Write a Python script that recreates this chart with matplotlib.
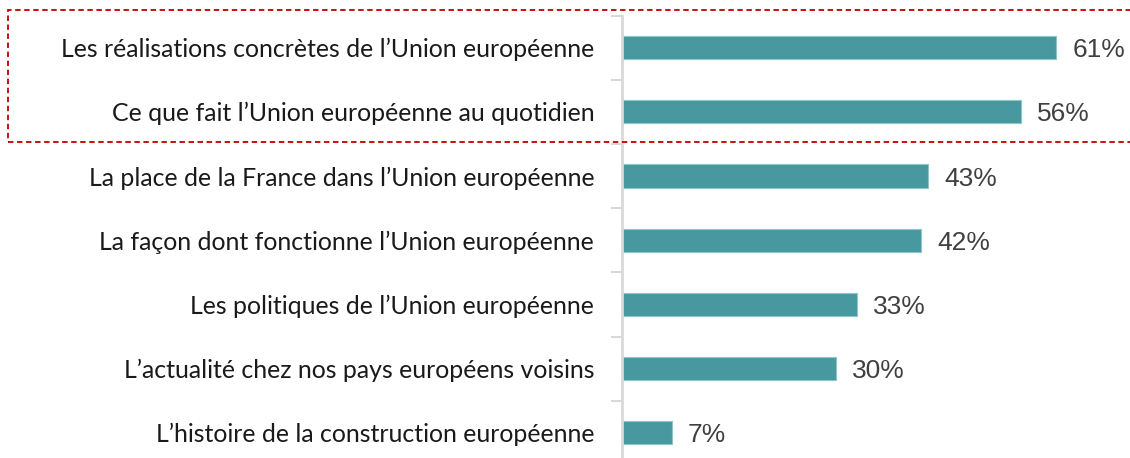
import matplotlib.pyplot as plt
from matplotlib.patches import Rectangle
from matplotlib.ticker import FixedLocator

categories = [
    "Les réalisations concrètes de l’Union européenne",
    "Ce que fait l’Union européenne au quotidien",
    "La place de la France dans l’Union européenne",
    "La façon dont fonctionne l’Union européenne",
    "Les politiques de l’Union européenne",
    "L’actualité chez nos pays européens voisins",
    "L’histoire de la construction européenne",
]
values = [61, 56, 43, 42, 33, 30, 7]

W, H = 1130, 458
fig = plt.figure(figsize=(W / 100, H / 100), dpi=100)

# axes placed in pixels: x=0 at 622 px, 7.12 px per point; rows 64.2 px high
x0, top, row = 622, 15.5, 64.2
n = len(categories)
bottom_px = top + n * row
ax = fig.add_axes([x0 / W, 1 - bottom_px / H, (W - x0) / W, n * row / H])

ypos = list(range(n))
ax.barh(ypos, values, height=0.36, color="#47999F", edgecolor="#8EC6CA",
        linewidth=0.8)
ax.set_xlim(0, (W - x0) / 7.12)
ax.set_ylim(n - 0.5, -0.5)

ax.set_yticks(ypos)
ax.set_yticklabels(categories, fontsize=17.9, family="Lato", color="#1A1A1A")
ax.tick_params(axis="y", which="major", length=0, pad=20)
ax.yaxis.set_minor_locator(FixedLocator([i - 0.5 for i in range(n + 1)]))
ax.tick_params(axis="y", which="minor", length=8, width=1.5, color="#D9D9D9")
ax.set_xticks([])

for s in ["top", "right", "bottom"]:
    ax.spines[s].set_visible(False)
ax.spines["left"].set_color("#D9D9D9")
ax.spines["left"].set_linewidth(2)

for y, v in zip(ypos, values):
    ax.text(v + 16 / 7.12, y + 0.04, f"{v}%", va="center", ha="left",
            fontsize=19, family="Liberation Sans", color="#404040")

# dashed highlight box around the first two items
fig.patches.append(Rectangle((8 / W, 1 - 142 / H), 1.2, (142 - 10) / H,
                             transform=fig.transFigure, fill=False,
                             edgecolor="#C00000", linestyle=(0, (3, 2)),
                             linewidth=1.3, clip_on=False))

fig.savefig("out.png", dpi=100)
